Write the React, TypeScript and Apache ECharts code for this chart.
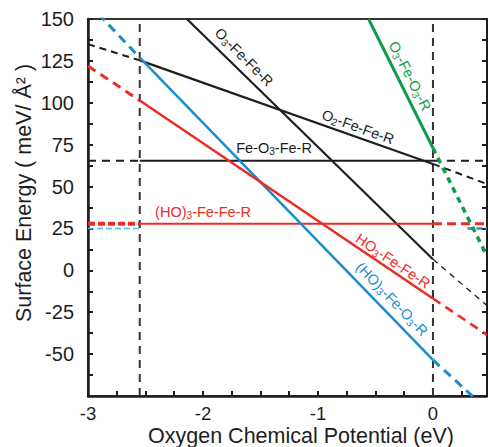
import React, { useEffect, useRef } from 'react';
import * as echarts from 'echarts';

// Axis ranges and tick labels
const xMin = -3;
const xMax = 0.47;
const yMin = -75;
const yMax = 150;
const xTickLabels = [-3, -2, -1, 0];
const yTickLabels = [150, 125, 100, 75, 50, 25, 0, -25, -50];

// Vertical reference (dashed) lines
const verticalLineXs = [-2.55, 0];

// (HO)3-Fe-O3-R (blue)
const blueLeftDash = [[-3, 159.5], [-2.55, 127]];
const blueSolid = [[-2.55, 127], [0, -53.5]];
const blueRightDash = [[0, -53.5], [0.47, -83]];

// HO3-Fe-Fe-R (red, sloped)
const redLeftDash = [[-3, 122], [-2.55, 101.4]];
const redSolid = [[-2.55, 101.4], [0, -16.8]];
const redRightDash = [[0, -16.8], [0.47, -38.5]];

// O2-Fe-Fe-R (black)
const o2LeftDash = [[-3, 135], [-2.55, 125.3]];
const o2Solid = [[-2.55, 125.3], [0, 63.5]];
const o2RightDash = [[0, 63.5], [0.47, 51.5]];

// O3-Fe-Fe-R (black, steep)
const o3Solid = [[-2.14, 150], [0, 6.6]];
const o3RightDash = [[0, 6.6], [0.47, -21]];

// Fe-O3-Fe-R (black, flat)
const feLeftDash = [[-3, 65.4], [-2.55, 65.4]];
const feSolid = [[-2.55, 65.4], [0, 65.4]];
const feRightDash = [[0, 65.4], [0.47, 65.4]];

// (HO)3-Fe-Fe-R (red, flat)
const hoFlatLeftDash = [[-3, 27.8], [-2.55, 27.8]];
const hoFlatSolid = [[-2.55, 27.8], [0, 27.8]];
const hoFlatRightDash = [[0, 27.8], [0.47, 27.8]];

// light blue flat pieces
const lightBlueLeft = [[-3, 25], [-2.55, 25]];
const lightBlueRight = [[0.3, 25], [0.47, 25]];

// O3-Fe-O3-R (green)
const greenSolid = [[-0.56, 150], [0, 73]];
const greenRightDash = [[0, 73], [0.47, 8.5]];

const RED = '#ec2b25';
const BLUE = '#1a8dcc';
const GREEN = '#109a4c';
const BLACK = '#1e1e1e';
const FONT = '"Liberation Sans", Arial, sans-serif';

function seg(data: number[][], color: string, width: number, type: any, z = 2) {
  return {
    type: 'line',
    data,
    showSymbol: false,
    symbol: 'none',
    clip: true,
    z,
    silent: true,
    lineStyle: { color, width, type, cap: 'butt' },
  };
}

function label(parts: [string, boolean][], x: number, y: number, deg: number, color: string, size = 14.5) {
  const text = parts.map(([t, sub]) => (sub ? `{s|${t}}` : `{n|${t}}`)).join('');
  return {
    type: 'text',
    x,
    y,
    rotation: (deg * Math.PI) / 180,
    z: 10,
    style: {
      text,
      align: 'center',
      verticalAlign: 'middle',
      fill: color,
      font: `${size}px ${FONT}`,
      rich: {
        n: { fontSize: size, fontFamily: FONT, fill: color, lineHeight: size + 4, verticalAlign: 'middle' },
        s: { fontSize: size * 0.7, fontFamily: FONT, fill: color, lineHeight: size + 4, padding: [size * 0.5, 0, 0, 0], verticalAlign: 'middle' },
      },
    },
  };
}

export default function App() {
  const ref = useRef<HTMLDivElement>(null);
  useEffect(() => {
    if (!ref.current) return;
    const chart = echarts.init(ref.current, null, { renderer: 'svg' });
    const isNear = (v: number, arr: number[]) => arr.some((a) => Math.abs(a - v) < 1e-6);
    const series: any[] = [
      ...verticalLineXs.map((x) => seg([[x, yMin], [x, yMax]], '#333', 2, [8, 6], 1)),
      seg(lightBlueLeft, '#5ab4e0', 1.5, [6, 3]),
      seg(lightBlueRight, BLUE, 2.5, [6, 3]),
      seg(feLeftDash, BLACK, 2, [8, 6]),
      seg(feSolid, BLACK, 2, 'solid'),
      seg(feRightDash, BLACK, 2, [8, 6]),
      seg(o2LeftDash, BLACK, 2, [7, 5]),
      seg(o2Solid, BLACK, 2.2, 'solid'),
      seg(o2RightDash, BLACK, 2, [7, 5]),
      seg(o3Solid, BLACK, 2.2, 'solid'),
      seg(o3RightDash, BLACK, 1.3, [6, 5]),
      seg(hoFlatLeftDash, RED, 4, [7, 3]),
      seg(hoFlatSolid, RED, 2.2, 'solid'),
      seg(hoFlatRightDash, RED, 3, [9, 5]),
      seg(blueLeftDash, BLUE, 3, [9, 6]),
      seg(blueSolid, BLUE, 2.5, 'solid'),
      seg(blueRightDash, BLUE, 3, [9, 6]),
      seg(redLeftDash, RED, 3, [9, 6]),
      seg(redSolid, RED, 2.5, 'solid'),
      seg(redRightDash, RED, 2.5, [9, 6]),
      seg(greenSolid, GREEN, 3, 'solid'),
      seg(greenRightDash, GREEN, 3.5, [6, 5]),
    ];
    chart.setOption({
      animation: false,
      grid: {
        left: 88,
        right: 1,
        top: 19,
        bottom: 51,
        show: true,
        borderColor: '#333',
        borderWidth: 2,
        backgroundColor: 'transparent',
      },
      xAxis: {
        type: 'value',
        min: xMin,
        max: xMax,
        interval: 0.25,
        splitLine: { show: false },
        axisLine: { show: true, onZero: false, lineStyle: { color: BLACK, width: 2.5 } },
        axisTick: { show: true, inside: true, length: 5, lineStyle: { color: BLACK, width: 2 } },
        axisLabel: {
          margin: 8,
          color: BLACK,
          fontSize: 18.5,
          lineHeight: 19,
          fontFamily: FONT,
          showMaxLabel: false,
          formatter: (v: number) => (isNear(v, xTickLabels) ? String(Math.round(v)) : ''),
        },
      },
      yAxis: [
        {
          type: 'value',
          min: yMin,
          max: yMax,
          interval: 12.5,
          splitLine: { show: false },
          axisLine: { show: true, onZero: false, lineStyle: { color: BLACK, width: 2.5 } },
          axisTick: { show: true, inside: true, length: 5, lineStyle: { color: BLACK, width: 2 } },
          axisLabel: {
            margin: 14,
            color: BLACK,
            fontSize: 20,
            fontFamily: FONT,
            formatter: (v: number) => (isNear(v, yTickLabels) ? String(Math.round(v)) : ''),
          },
        },
        {
          type: 'value',
          position: 'right',
          min: yMin,
          max: yMax,
          interval: 12.5,
          splitLine: { show: false },
          axisLine: { show: true, onZero: false, lineStyle: { color: BLACK, width: 2 } },
          axisTick: { show: true, inside: true, length: 5, lineStyle: { color: BLACK, width: 2 } },
          axisLabel: { show: false },
        },
      ],
      series,
      graphic: [
        {
          type: 'text',
          x: 301,
          y: 436,
          style: {
            text: 'Oxygen Chemical Potential (eV)',
            align: 'center',
            verticalAlign: 'middle',
            fill: BLACK,
            font: `21.5px ${FONT}`,
          },
        },
        {
          type: 'text',
          x: 24,
          y: 193,
          rotation: Math.PI / 2,
          style: {
            text: 'Surface Energy ( meV/ Å² )',
            align: 'center',
            verticalAlign: 'middle',
            fill: BLACK,
            font: `21.5px ${FONT}`,
          },
        },
        label([['O', false], ['3', true], ['-Fe-Fe-R', false]], 244, 57, -45, BLACK),
        label([['O', false], ['2', true], ['-Fe-Fe-R', false]], 358, 127, -20, BLACK),
        label([['Fe-O', false], ['3', true], ['-Fe-R', false]], 274, 148, 0, BLACK),
        label([['(HO)', false], ['3', true], ['-Fe-Fe-R', false]], 203, 212, 0, RED),
        label([['HO', false], ['3', true], ['-Fe-Fe-R', false]], 393, 261, -34, RED),
        label([['(HO)', false], ['3', true], ['-Fe-O', false], ['3', true], ['-R', false]], 392, 299, -46, BLUE),
        label([['O', false], ['3', true], ['-Fe-O', false], ['3', true], ['-R', false]], 410, 76, -63, GREEN),
      ],
    });
    return () => chart.dispose();
  }, []);
  return <div ref={ref} style={{ width: 488, height: 447, position: 'absolute', left: 0, top: 0 }} />;
}
